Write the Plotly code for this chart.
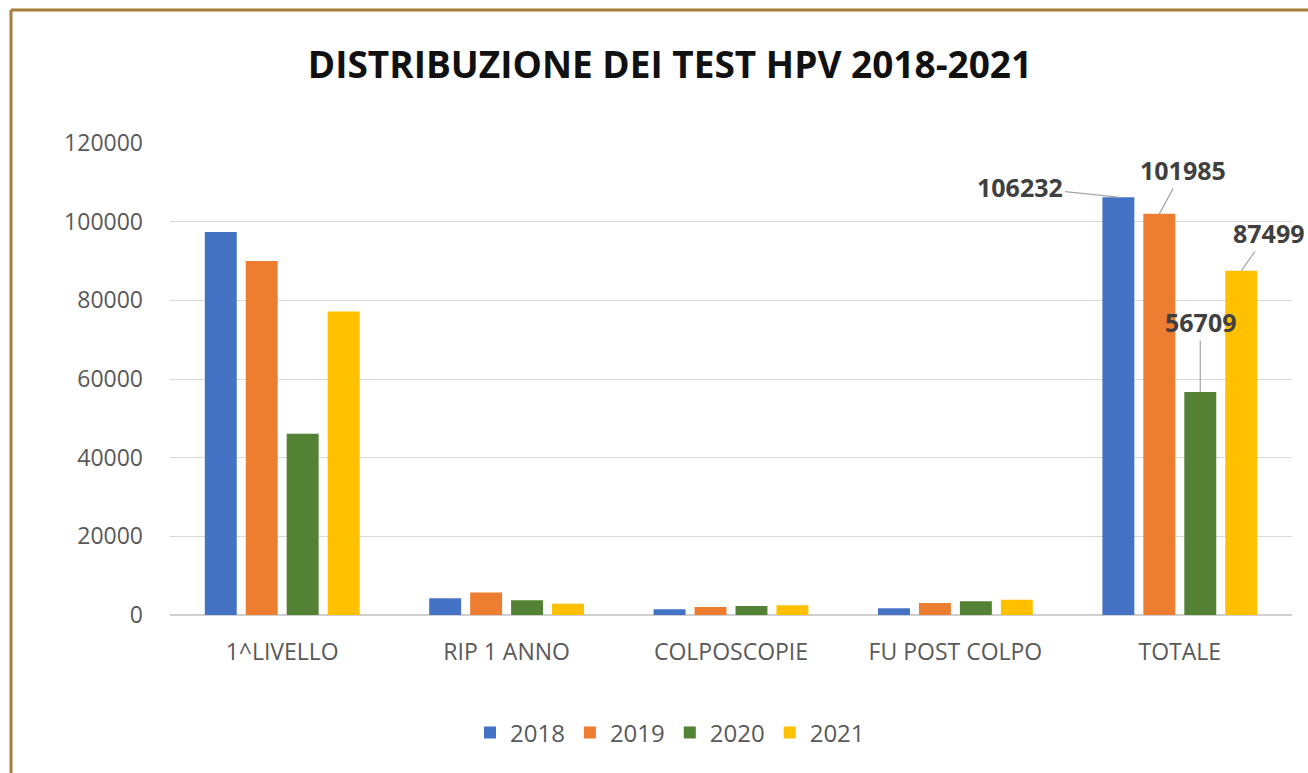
import plotly.graph_objects as go

categories = ["1^LIVELLO", "RIP 1 ANNO", "COLPOSCOPIE", "FU POST COLPO", "TOTALE"]
years = ["2018", "2019", "2020", "2021"]
v2018 = [97370, 4260, 1450, 1710, 106232]
v2019 = [89980, 5690, 2040, 3060, 101985]
v2020 = [46060, 3750, 2290, 3490, 56709]
v2021 = [77160, 2880, 2470, 3900, 87499]
series = [v2018, v2019, v2020, v2021]
colors = ["#4472C4", "#ED7D31", "#548235", "#FFC000"]
yticks = [0, 20000, 40000, 60000, 80000, 100000, 120000]

W, H = 1308, 773
L, R, T, B = 170, 16, 143, 158
pw, ph = W - L - R, H - T - B
bargap, bargroupgap = 0.27, 0.22
slot = pw / len(categories) * (1 - bargap) / len(years)

fig = go.Figure()
for name, vals, col in zip(years, series, colors):
    fig.add_trace(go.Bar(name=name, x=categories, y=vals, marker_color=col,
                         marker_line_width=0))

# labelled totals with leader lines (text offsets in px)
offsets = [(-98, -10), (24, -44), (0, -70), (27, -38)]
for i, (vals, (ax, ay)) in enumerate(zip(series, offsets)):
    fig.add_annotation(x=categories[-1], y=vals[-1], xshift=(i - 1.5) * slot,
                       text=f"<b>{vals[-1]}</b>", showarrow=True, arrowhead=0,
                       arrowwidth=1.2, arrowcolor="#A6A6A6", ax=ax, ay=ay,
                       font=dict(family="Open Sans", size=25, color="#404040"))

# border (left & top)
bc = "#A57C3A"
x0 = (11 - L) / pw
ytop = (H - B - 10) / ph
fig.add_shape(type="line", xref="paper", yref="paper", x0=x0, x1=x0, y0=ytop, y1=(-B - 10) / ph,
              line=dict(color=bc, width=3))
fig.add_shape(type="line", xref="paper", yref="paper", x0=x0, x1=(W + 10 - L) / pw, y0=ytop, y1=ytop,
              line=dict(color=bc, width=3))

fig.update_layout(
    width=W, height=H,
    margin=dict(l=L, r=R, t=T, b=B, autoexpand=False),
    paper_bgcolor="white", plot_bgcolor="white",
    barmode="group", bargap=bargap, bargroupgap=bargroupgap,
    title=dict(text="<b>DISTRIBUZIONE DEI TEST HPV 2018-2021</b>",
               x=670 / W, xanchor="center", xref="container",
               y=1 - 65 / H, yanchor="middle", yref="container",
               font=dict(family="Open Sans", size=37, color="#111111")),
    font=dict(family="Open Sans", color="#595959"),
    legend=dict(orientation="h", x=(670 - L) / pw, xanchor="center",
                y=-(733 - (H - B)) / ph, yanchor="middle",
                font=dict(size=24, color="#595959"),
                traceorder="normal"),
    showlegend=True,
)
fig.update_yaxes(range=[0, 120000], autorange=False, tickvals=yticks,
                 ticktext=[str(v) for v in yticks],
                 showgrid=True, gridcolor="#D9D9D9", gridwidth=1.3,
                 zeroline=True, zerolinecolor="#D0D0D0", zerolinewidth=2,
                 tickfont=dict(size=23, color="#595959"), ticklabelstandoff=26,
                 automargin=False)
fig.update_xaxes(range=[-0.5, len(categories) - 0.5], autorange=False,
                 tickfont=dict(size=23, color="#595959"), ticklabelstandoff=21,
                 showline=False, tickangle=0, automargin=False)

fig.write_html("out.html", config={"displayModeBar": False},
               post_script="document.body.style.margin='0';document.body.style.overflow='hidden';")
